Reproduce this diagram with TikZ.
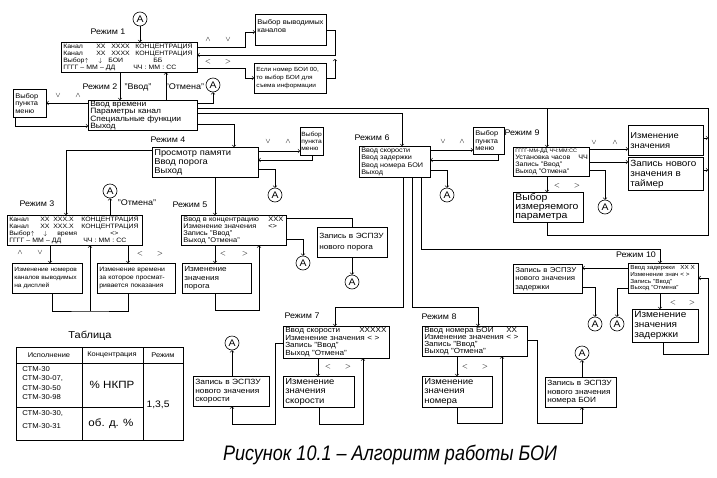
\documentclass[tikz,border=0pt]{standalone}
\usepackage{fontspec}
\setmainfont{Liberation Sans}[FakeStretch=1.1]
\newfontfamily\capfont{Liberation Sans}[FakeStretch=0.86]
\newcommand{\fsz}[2]{\fontsize{#1}{#2}\selectfont}

\tikzset{
  box/.style={draw, anchor=north west, align=left, inner xsep=2pt, inner ysep=0.5pt},
  circA/.style={draw, circle, minimum size=14pt, inner sep=0pt, font=\fsz{9.5}{9.5}},
  rezh/.style={font=\fsz{8.1}{8.1}, inner sep=0pt},
  mk/.style={font=\fsz{7}{7}, inner sep=0pt},
  quot/.style={font=\fsz{8.2}{8.2}, inner sep=0pt},
}

\begin{document}
\begin{tikzpicture}[x=1pt, y=-1pt, line width=0.6pt]
\useasboundingbox (0,0) rectangle (717,477);

% Режим 1 and Режим 2
\node[circA] (a1) at (140,19) {A};
\node[rezh] (l1) at (108,32) {Режим 1};
\node[box, text width=132pt, minimum height=30pt, font=\fsz{6.3}{7.1}] (r1) at (61,42)
  {\makebox[33pt][l]{Канал}\makebox[15pt][l]{XX}\makebox[24pt][l]{XXXX}КОНЦЕНТРАЦИЯ\\
   \makebox[33pt][l]{Канал}\makebox[15pt][l]{XX}\makebox[24pt][l]{XXXX}КОНЦЕНТРАЦИЯ\\
   \makebox[35pt][l]{Выбор$\uparrow$}\makebox[10pt][l]{$\downarrow$}\makebox[45pt][l]{БОИ}ББ\\
   \makebox[70pt][l]{ГГГГ – ММ – ДД}ЧЧ : ММ : СС};
\node[box, text width=67pt, minimum height=31pt, font=\fsz{6.9}{7.8}] (vyv) at (255,14) {Выбор выводимых\\каналов\\~};
\node[box, text width=68pt, minimum height=30pt, font=\fsz{5.9}{7.8}] (esli) at (254,63) {Если номер БОИ 00,\\то выбор БОИ для\\съема информации};
\coordinate (j1) at (335,55);

\node[rezh] (l2) at (100,87) {Режим 2};
\node[quot] (q1) at (138,87) {"Ввод"};
\node[quot] (q2) at (185,87) {"Отмена"};
\node[circA] (a2) at (213,85) {A};
\node[box, text width=105pt, minimum height=30pt, font=\fsz{7.7}{7.5}] (r2) at (88,100)
  {Ввод времени\\Параметры канал\\Специальные функции\\Выход};
\node[box, text width=29pt, minimum height=28pt, font=\fsz{6.8}{7.6}] (m1) at (13,89) {Выбор\\пункта\\меню};

\node[mk] (k1) at (208,40) {$\wedge$};
\node[mk] (k2) at (228,40) {$\vee$};
\node[mk] (k3) at (208,62) {$<$};
\node[mk] (k4) at (228,62) {$>$};
\node[mk] (k5) at (58,96) {$\vee$};
\node[mk] (k6) at (78,96) {$\wedge$};

\draw[->] (a1) -- (r1.north -| a1);
\draw[->] (r1.south -| 120,0) -- (r2.north -| 120,0);
\draw[->] (r2.north -| 166,0) -- (r1.south -| 166,0);
\draw[->] (r2.east |- 0,103) -| (a2);
\draw[->] (r2.west |- 0,103) -- (m1.east |- 0,103);
\draw[->] (m1.south -| 15,0) |- (r2.west |- 0,126);
\draw[->] (r1.east |- 0,47) -- (245,47) |- (vyv.west |- 0,32);
\draw[->] (r1.east |- 0,68) -- (245,68) |- (esli.west |- 0,78);
\draw[->] (esli.east |- 0,78) -| (335,59);
\draw[->] (vyv.east |- 0,30) -| (j1) -- (r1.east |- 0,55);

% Режим 4
\node[rezh] (l4) at (168,140) {Режим 4};
\node[box, text width=102pt, minimum height=30pt, font=\fsz{8.5}{9}] (r4) at (152,147)
  {Просмотр памяти\\Ввод порога\\Выход};
\node[box, inner xsep=1pt, text width=21pt, minimum height=28pt, font=\fsz{6.1}{7.2}] (m4) at (300,127) {Выбор\\пункта\\меню};
\node[circA] (a4) at (275,195) {A};
\node[mk] (k7) at (268,142) {$\vee$};
\node[mk] (k8) at (288,142) {$\wedge$};

\draw[->] (r2.east |- 0,124) -| (r4.north -| 234,0);
\draw[->] (r4.east |- 0,151) -- (m4.west |- 0,151);
\draw[->] (m4.south -| 312,0) |- (r4.east |- 0,160);
\draw[->] (r4.east |- 0,169) -| (a4);

% Режим 3
\node[rezh] (l3) at (37,204) {Режим 3};
\node[quot] (q3) at (137,203) {"Отмена"};
\node[circA] (a3) at (110,191) {A};
\node[box, text width=131pt, minimum height=30pt, font=\fsz{6.3}{7.1}] (r3) at (7,215)
  {\makebox[31pt][l]{Канал}\makebox[13pt][l]{XX}\makebox[28pt][l]{XXX.X}КОНЦЕНТРАЦИЯ\\
   \makebox[31pt][l]{Канал}\makebox[13pt][l]{XX}\makebox[28pt][l]{XXX.X}КОНЦЕНТРАЦИЯ\\
   \makebox[34pt][l]{Выбор$\uparrow$}\makebox[14pt][l]{$\downarrow$}\makebox[53pt][l]{время}<>\\
   \makebox[74pt][l]{ГГГГ – ММ – ДД}ЧЧ : ММ : СС};
\node[box, text width=66pt, minimum height=30pt, font=\fsz{6}{8}] (nom) at (12,263)
  {Изменение номеров\\каналов выводимых\\на дисплей};
\node[box, text width=74pt, minimum height=30pt, font=\fsz{6.3}{8}] (vrem) at (97,263)
  {Изменение времени\\за которое просмат-\\ривается показания};
\node[mk] (k9) at (20,253) {$\wedge$};
\node[mk] (k10) at (40,253) {$\vee$};
\node[mk] (k11) at (140,254) {$<$};
\node[mk] (k12) at (160,254) {$>$};
\coordinate (j3) at (90,311);

\draw[->] (r4.west |- 0,150) -| (r3.north -| 66,0);
\draw[->] (r3.north -| a3) -- (a3);
\draw[->] (r3.south -| 50,0) -- (nom.north -| 50,0);
\draw[->] (r3.south -| 128,0) -- (vrem.north -| 128,0);
\draw (nom.south -| 52,0) |- (j3) -| (vrem.south -| 128,0);
\draw[->] (j3) -- (r3.south -| j3);

% Режим 5
\node[rezh] (l5) at (190,205) {Режим 5};
\node[box, text width=101pt, minimum height=30pt, font=\fsz{6.8}{7}] (r5) at (181,215)
  {\makebox[85pt][l]{Ввод в концентрацию}XXX\\
   \makebox[85pt][l]{Изменение значения}<>\\
   Запись "Ввод"\\Выход "Отмена"};
\node[box, text width=66pt, minimum height=30pt, font=\fsz{7.5}{11}] (zap5) at (317,227)
  {Запись в ЭСПЗУ\\нового порога};
\node[box, text width=65pt, minimum height=30pt, font=\fsz{7.4}{8.5}] (por) at (182,263)
  {Изменение\\значения\\порога};
\node[circA] (a5) at (303,263) {A};
\node[circA] (a6) at (352,282) {A};
\node[mk] (k13) at (223,254) {$<$};
\node[mk] (k14) at (245,254) {$>$};

\draw[->] (r4.south -| 215,0) -- (r5.north -| 215,0);
\draw (r5.east |- 0,218) -| (zap5.north -| 352,0);
\draw[->] (zap5.south -| a6) -- (a6);
\draw[->] (r5.east |- 0,239) -| (a5);
\draw[->] (r5.south -| 215,0) -- (por.north -| 215,0);
\draw[->] (por.south -| 215,0) |- (259,310) -- (r5.south -| 259,0);

% Режим 6
\node[rezh] (l6) at (372,138) {Режим 6};
\node[box, text width=67pt, minimum height=31pt, font=\fsz{6.6}{7.3}] (r6) at (359,146)
  {Ввод скорости\\Ввод задержки\\Ввод номера БОИ\\Выход};
\node[box, text width=27pt, minimum height=27pt, font=\fsz{6.8}{7.5}] (m6) at (473,127) {Выбор\\пункта\\меню};
\node[circA] (a7) at (447,195) {A};
\node[mk] (k15) at (443,142) {$\vee$};
\node[mk] (k16) at (462,142) {$\wedge$};

\draw[->] (r2.east |- 0,113) -| (r6.north -| 402,0);
\draw[->] (r6.east |- 0,150) -- (m6.west |- 0,150);
\draw[->] (m6.south -| 498,0) |- (r6.east |- 0,160);
\draw[->] (r6.east |- 0,170) -| (a7);

% Режим 9
\node[rezh] (l9) at (522,133) {Режим 9};
\node[box, text width=72pt, minimum height=29pt, font=\fsz{6.5}{6.8}] (r9) at (513,147)
  {{\fsz{5}{6.8}ГГГГ-ММ-ДД ЧЧ:ММ:СС}\\
   \makebox[63pt][l]{Установка часов}ЧЧ\\
   Запись "Ввод"\\Выход "Отмена"};
\node[box, text width=71pt, minimum height=30pt, font=\fsz{8.5}{10}] (izm9) at (628,125) {Изменение\\значения};
\node[box, text width=71pt, minimum height=33pt, font=\fsz{9}{10}] (zap9) at (628,157) {Запись нового\\значения в\\таймер};
\node[box, text width=66pt, minimum height=30pt, font=\fsz{9.5}{9}] (par9) at (513,192) {Выбор\\измеряемого\\параметра};
\node[circA] (a8) at (605,207) {A};
\node[mk] (k17) at (594,143) {$\vee$};
\node[mk] (k18) at (615,143) {$\wedge$};
\node[mk] (k19) at (557,186) {$<$};
\node[mk] (k20) at (577,186) {$>$};

\draw[->] (r2.east |- 0,108) -| (r9.north -| 547,0);
\draw (par9.south -| 547,0) |- (708,235) |- (547,108);
\draw[->] (r9.east |- 0,149) -- (izm9.west |- 0,149);
\draw[->] (r9.east |- 0,162) -- (zap9.west |- 0,162);
\draw[->] (r9.east |- 0,170) -| (a8);
\draw[->] (r9.south -| 547,0) -- (par9.north -| 547,0);
\draw[->] (izm9.east |- 0,138) -- (708,138);
\draw[->] (zap9.east |- 0,170) -- (708,170);

% Режим 10
\node[rezh] (l10) at (636,255) {Режим 10};
\node[box, text width=66pt, minimum height=30pt, font=\fsz{5.8}{6.8}] (r10) at (628,263)
  {\makebox[50pt][l]{Ввод задержки}XX X\\
   \makebox[50pt][l]{Изменение знач}< >\\
   Запись "Ввод"\\Выход "Отмена"};
\node[box, text width=65pt, minimum height=29pt, font=\fsz{7.1}{8.5}] (zap10) at (513,264)
  {Запись в ЭСПЗУ\\нового значения\\задержки};
\node[box, text width=62pt, minimum height=33pt, font=\fsz{9.1}{10}] (izm10) at (632,309)
  {Изменение\\значения\\задержки};
\node[circA] (a9) at (595,324) {A};
\node[circA] (a10) at (617,324) {A};
\node[mk] (k21) at (673,303) {$<$};
\node[mk] (k22) at (692,303) {$>$};

\draw[->] (r6.south -| 421,0) |- (660,249) -- (r10.north -| 660,0);
\draw[->] (r10.west |- 0,268) -- (zap10.east |- 0,268);
\draw[->] (zap10.east |- 0,287) -| (a9);
\draw[->] (r10.west |- 0,288) -| (a10);
\draw[->] (r10.south -| 660,0) -- (izm10.north -| 660,0);
\draw[->] (izm10.south -| 663,0) |- (708,354) |- (r10.east |- 0,278);

% Режим 7
\node[rezh] (l7) at (302,316) {Режим 7};
\node[box, text width=102pt, minimum height=32pt, font=\fsz{7.4}{7.5}] (r7) at (283,326)
  {\makebox[74pt][l]{Ввод скорости}XXXXX\\
   Изменение значения < >\\
   Запись "Ввод"\\Выход "Отмена"};
\node[box, text width=67pt, minimum height=31pt, font=\fsz{8.6}{9.5}] (izm7) at (283,376)
  {Изменение\\значения\\скорости};
\node[box, text width=72pt, minimum height=30pt, font=\fsz{7.6}{8.2}] (zap7) at (193,376)
  {Запись в ЭСПЗУ\\нового значения\\скорости};
\node[circA] (a12) at (232,343) {A};
\node[mk] (k23) at (328,367) {$<$};
\node[mk] (k24) at (348,367) {$>$};

\draw[->] (r6.south -| 403,0) |- (335,307) -- (r7.north -| 335,0);
\draw[->] (r7.south -| 318,0) -- (izm7.north -| 318,0);
\draw[->] (izm7.south -| 319,0) |- (363,424) -- (r7.south -| 363,0);
\draw[->] (r7.west |- 0,343) -| (275,424) -| (zap7.south -| a12);
\draw[->] (zap7.north -| a12) -- (a12);

% Режим 8
\node[rezh] (l8) at (439,317) {Режим 8};
\node[box, text width=101pt, minimum height=30pt, font=\fsz{7.4}{7.2}] (r8) at (422,326)
  {\makebox[82pt][l]{Ввод номера БОИ}XX\\
   Изменение значения < >\\
   Запись "Ввод"\\Выход "Отмена"};
\node[box, text width=66pt, minimum height=31pt, font=\fsz{8.6}{9.5}] (izm8) at (422,376)
  {Изменение\\значения\\номера};
\node[box, text width=67pt, minimum height=30pt, font=\fsz{7.5}{8.2}] (zap8) at (545,377)
  {Запись в ЭСПЗУ\\нового значения\\номера БОИ};
\node[circA] (a11) at (582,353) {A};
\node[mk] (k25) at (465,367) {$<$};
\node[mk] (k26) at (485,367) {$>$};

\draw[->] (r6.south -| 412,0) |- (478,307) -- (r8.north -| 478,0);
\draw[->] (r8.south -| 457,0) -- (izm8.north -| 457,0);
\draw[->] (izm8.south -| 457,0) |- (502,423) -- (r8.south -| 502,0);
\draw[->] (r8.east |- 0,340) -| (537,423) -| (zap8.south -| a11);
\draw[->] (zap8.north -| a11) -- (a11);

% Таблица
\node[font=\fsz{10}{10}] (tt) at (90,336) {Таблица};
\draw (16,347) rectangle (183,440);
\draw (82,347) -- (82,440);
\draw (143,347) -- (143,440);
\draw (16,363) -- (183,363);
\draw (16,407) -- (143,407);
\node[font=\fsz{6.8}{6.8}] (h1) at (49,355) {Исполнение};
\node[font=\fsz{6.8}{6.8}] (h2) at (112,355) {Концентрация};
\node[font=\fsz{6.8}{6.8}] (h3) at (163,355) {Режим};
\node[font=\fsz{7}{9.6}, align=left, anchor=north west, inner sep=0pt] (c1) at (22,366)
  {СТМ-30\\СТМ-30-07,\\СТМ-30-50\\СТМ-30-98};
\node[font=\fsz{7}{13}, align=left, anchor=north west, inner sep=0pt] (c2) at (22,410)
  {СТМ-30-30,\\СТМ-30-31};
\node[font=\fsz{10.5}{10.5}] (c3) at (112,385) {\% НКПР};
\node[font=\fsz{10.5}{10.5}] (c4) at (111,424) {об. д. \%};
\node[font=\fsz{9.4}{9.4}] (c5) at (158,405) {1,3,5};

\node[font=\capfont\fsz{21}{21}\itshape] (cap) at (390,455) {Рисунок 10.1 – Алгоритм работы БОИ};

\end{tikzpicture}
\end{document}
